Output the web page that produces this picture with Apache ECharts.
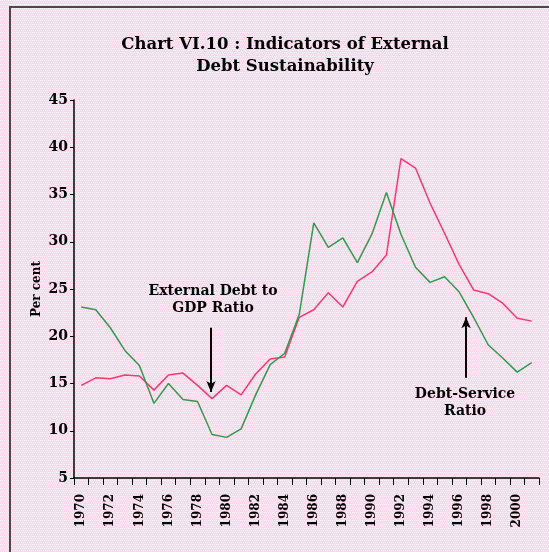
<!DOCTYPE html>
<html>
<head>
<meta charset="utf-8">
<script src="https://cdn.jsdelivr.net/npm/echarts@6/dist/echarts.min.js"></script>
<style>
    html, body { margin: 0; padding: 0; }
    #chart { width: 549px; height: 552px; }
</style>
</head>
<body>
<div id="chart"></div>
<script>
// years 1970 .. 2001
var years = ['1970', '1971', '1972', '1973', '1974', '1975', '1976', '1977', '1978', '1979',
    '1980', '1981', '1982', '1983', '1984', '1985', '1986', '1987', '1988', '1989',
    '1990', '1991', '1992', '1993', '1994', '1995', '1996', '1997', '1998', '1999',
    '2000', '2001'];

var debtToGdp = [14.8, 15.6, 15.5, 15.9, 15.8, 14.3, 15.9, 16.1, 14.8, 13.4,
    14.8, 13.8, 16.0, 17.6, 17.8, 22.0, 22.8, 24.6, 23.1, 25.8,
    26.8, 28.6, 38.8, 37.8, 34.1, 30.9, 27.6, 24.9, 24.5, 23.5,
    21.9, 21.6];

var debtService = [23.1, 22.8, 20.9, 18.5, 16.9, 12.9, 15.0, 13.3, 13.1, 9.6,
    9.3, 10.2, 13.8, 17.0, 18.2, 22.3, 32.0, 29.4, 30.4, 27.8,
    30.8, 35.2, 30.8, 27.3, 25.7, 26.3, 24.7, 22.0, 19.1, 17.7,
    16.2, 17.2];

// annotation texts and where they sit (category index, value)
var noteTexts = ['External Debt to\nGDP Ratio', 'Debt-Service\nRatio'];
var notePos = [[9.07, 23.9], [26.41, 13.0]];
var arrowFrom = [[8.93, 20.9], [26.48, 15.6]];
var arrowTo = [[8.93, 14.1], [26.48, 22.0]];

var serif = 'DejaVu Serif';

// dotted pink paper
var bg = document.createElement('canvas');
bg.width = 4;
bg.height = 4;
var ctx = bg.getContext('2d');
ctx.fillStyle = '#fbd8ec';
ctx.fillRect(0, 0, 4, 4);
ctx.fillStyle = '#fff2f9';
ctx.fillRect(0, 0, 1, 1);
ctx.fillRect(2, 0, 1, 1);
ctx.fillRect(1, 2, 1, 1);
ctx.fillRect(3, 2, 1, 1);

var chart = echarts.init(document.getElementById('chart'));

var notePoints = [];
var arrows = [];
for (var i = 0; i < noteTexts.length; i++) {
    notePoints.push({ coord: notePos[i], value: noteTexts[i] });
    arrows.push([{ coord: arrowFrom[i] }, { coord: arrowTo[i] }]);
}

var option = {
    backgroundColor: { image: bg, repeat: 'repeat' },
    animation: false,
    title: {
        text: 'Chart VI.10 : Indicators of External\nDebt Sustainability',
        left: 280,
        top: 29,
        textAlign: 'center',
        textStyle: {
            fontFamily: serif,
            fontWeight: 'bold',
            fontSize: 16.5,
            lineHeight: 22,
            color: '#000'
        }
    },
    graphic: [{
        type: 'rect',
        shape: { x: 10, y: 7, width: 600, height: 600 },
        style: { fill: 'none', stroke: '#4a4a4a', lineWidth: 2 }
    }],
    grid: { left: 74, right: 10, top: 100, bottom: 74, outerBoundsMode: 'none' },
    xAxis: [{
        type: 'category',
        data: years,
        boundaryGap: true,
        axisLine: { lineStyle: { color: '#000', width: 1.5 } },
        axisTick: { show: true, interval: 0, length: 7, lineStyle: { color: '#000' } },
        axisLabel: {
            interval: 1,
            rotate: 90,
            margin: 16,
            color: '#000',
            fontFamily: serif,
            fontWeight: 'bold',
            fontSize: 12
        },
        splitLine: { show: false }
    }, {
        // hidden helper axis for the notes, same spacing as the categories
        type: 'value',
        min: -0.5,
        max: 31.5,
        show: false
    }],
    yAxis: {
        type: 'value',
        min: 5,
        max: 45,
        interval: 5,
        name: 'Per cent',
        nameLocation: 'middle',
        nameGap: 31,
        nameMoveOverlap: false,
        nameTextStyle: {
            fontFamily: serif,
            fontWeight: 'bold',
            fontSize: 12,
            color: '#000'
        },
        axisLine: { show: true, onZero: false, lineStyle: { color: '#000', width: 1.5 } },
        axisTick: { show: true, length: 4, lineStyle: { color: '#000' } },
        axisLabel: {
            margin: 6,
            color: '#000',
            fontFamily: serif,
            fontWeight: 'bold',
            fontSize: 14
        },
        splitLine: { show: false }
    },
    series: [
        {
            name: 'External Debt to GDP Ratio',
            type: 'line',
            data: debtToGdp,
            symbol: 'none',
            lineStyle: { color: '#f23a72', width: 1.5 }
        },
        {
            name: 'Debt-Service Ratio',
            type: 'line',
            data: debtService,
            symbol: 'none',
            lineStyle: { color: '#2f9a4c', width: 1.5 }
        },
        {
            name: 'notes',
            type: 'line',
            xAxisIndex: 1,
            data: [],
            markPoint: {
                symbol: 'circle',
                symbolSize: 1,
                itemStyle: { color: 'transparent' },
                label: {
                    show: true,
                    position: 'inside',
                    formatter: function (p) { return p.value; },
                    color: '#000',
                    fontFamily: serif,
                    fontWeight: 'bold',
                    fontSize: 14,
                    lineHeight: 17,
                    align: 'center'
                },
                data: notePoints
            },
            markLine: {
                silent: true,
                symbol: ['none', 'arrow'],
                symbolSize: [7, 11],
                label: { show: false },
                lineStyle: { color: '#000', width: 2, type: 'solid' },
                data: arrows
            }
        }
    ]
};

chart.setOption(option);
</script>
</body>
</html>
